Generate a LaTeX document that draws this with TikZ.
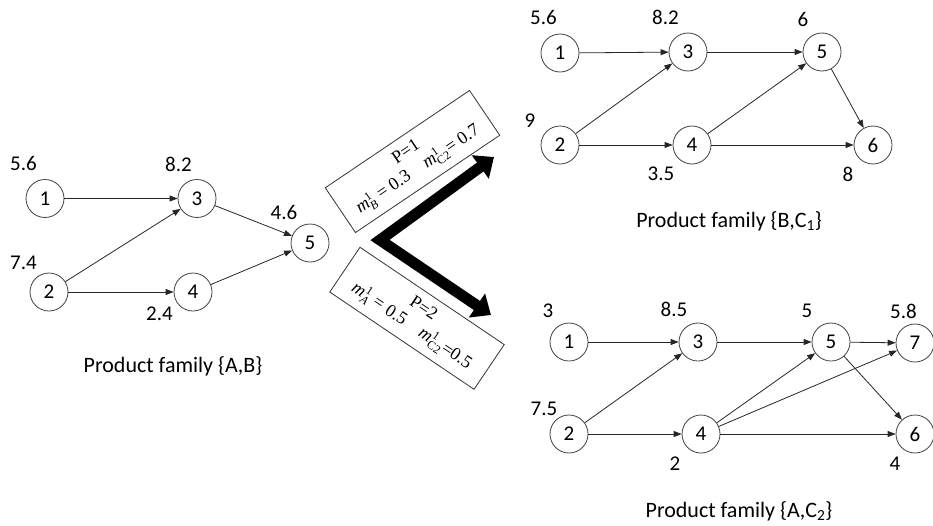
\documentclass[tikz,border=0pt]{standalone}
\usepackage[no-math]{fontspec}
\setmainfont{Carlito}
\newfontfamily\boxserif{Liberation Serif}
\newcommand\mvar[2]{$\mbox{\itshape m}^{\mbox{\fontsize{12}{12}\selectfont #2}}_{\mbox{\fontsize{12}{12}\selectfont #1}}$}
\usetikzlibrary{arrows.meta}
\begin{document}
\begin{tikzpicture}[x=1pt,y=-1pt,
  vtx/.style={circle, draw=black!75, line width=0.8pt, minimum size=38pt, inner sep=0pt, font=\fontsize{21}{25}\selectfont},
  lbl/.style={font=\fontsize{21}{25}\selectfont, inner sep=0pt},
  fam/.style={font=\fontsize{22}{26}\selectfont, inner sep=0pt, anchor=base},
  edge/.style={draw=black!85, line width=0.8pt, -{Triangle[length=8pt,width=6pt]}},
  pbox/.style={draw=black!80, line width=0.8pt, minimum width=174pt, minimum height=54pt, inner sep=0pt, align=center, font=\fontsize{18}{21}\selectfont\boxserif},
  big/.style={line width=11pt, line join=miter, {Triangle[length=17pt,width=28pt]}-{Triangle[length=17pt,width=28pt]}}
]
\useasboundingbox (0,0) rectangle (933,525);

% ---------- left graph ----------
\node[vtx] (L1) at (45,198.5) {1};
\node[vtx] (L3) at (197,198.5) {3};
\node[vtx] (L5) at (310,243) {5};
\node[vtx] (L2) at (49,292) {2};
\node[vtx] (L4) at (193,292) {4};
\node[lbl] (lL1) at (23.5,163.5) {5.6};
\node[lbl] (lL3) at (178.5,164) {8.2};
\node[lbl] (lL5) at (284,212) {4.6};
\node[lbl] (lL2) at (23.5,262.5) {7.4};
\node[lbl] (lL4) at (159.5,313.5) {2.4};
\draw[edge] (L1) -- (L3);
\draw[edge] (L2) -- (L3);
\draw[edge] (L2) -- (L4);
\draw[edge] (L3) -- (L5);
\draw[edge] (L4) -- (L5);
\node[fam] (famL) at (173,372) {Product family \{A,B\}};

% ---------- top-right graph ----------
\node[vtx] (T1) at (560,53) {1};
\node[vtx] (T3) at (688,52) {3};
\node[vtx] (T5) at (822,52) {5};
\node[vtx] (T2) at (560,145) {2};
\node[vtx] (T4) at (692,145) {4};
\node[vtx] (T6) at (873,145) {6};
\node[lbl] (lT1) at (543.5,17.5) {5.6};
\node[lbl] (lT3) at (665.5,17.5) {8.2};
\node[lbl] (lT5) at (803,19) {6};
\node[lbl] (lT2) at (530,121) {9};
\node[lbl] (lT4) at (661,174) {3.5};
\node[lbl] (lT6) at (848,174) {8};
\draw[edge] (T1) -- (T3);
\draw[edge] (T3) -- (T5);
\draw[edge] (T5) -- (T6);
\draw[edge] (T2) -- (T3);
\draw[edge] (T2) -- (T4);
\draw[edge] (T4) -- (T5);
\draw[edge] (T4) -- (T6);
\node[fam] (famT) at (729,227.5) {Product family \{B,C\textsubscript{1}\}};

% ---------- bottom-right graph ----------
\node[vtx] (B1) at (569,342) {1};
\node[vtx] (B3) at (698,342) {3};
\node[vtx] (B5) at (831,342) {5};
\node[vtx] (B7) at (915,343) {7};
\node[vtx] (B2) at (569,434) {2};
\node[vtx] (B4) at (701,434) {4};
\node[vtx] (B6) at (915,434) {6};
\node[lbl] (lB1) at (548,311) {3};
\node[lbl] (lB3) at (674,309) {8.5};
\node[lbl] (lB5) at (807,311) {5};
\node[lbl] (lB7) at (903.5,311) {5.8};
\node[lbl] (lB2) at (544,409) {7.5};
\node[lbl] (lB4) at (675,464) {2};
\node[lbl] (lB6) at (895,464) {4};
\draw[edge] (B1) -- (B3);
\draw[edge] (B3) -- (B5);
\draw[edge] (B5) -- (B7);
\draw[edge] (B5) -- (B6);
\draw[edge] (B2) -- (B3);
\draw[edge] (B2) -- (B4);
\draw[edge] (B4) -- (B5);
\draw[edge] (B4) -- (B7);
\draw[edge] (B4) -- (B6);
\node[fam] (famB) at (739,517) {Product family \{A,C\textsubscript{2}\}};

% ---------- split arrow and boxes ----------
\coordinate (tipU) at (494,157);
\coordinate (corner) at (380,240);
\coordinate (tipD) at (491,315);
\draw[big] (tipU) -- (corner) -- (tipD);

\node[pbox, rotate=34] (boxU) at (412.5,161.5)
  {P=1\\\mvar{\itshape B}{1} = 0.3\quad\mvar{C2}{1}= 0.7};
\node[pbox, rotate=-34] (boxD) at (417,318.3)
  {P=2\\\mvar{\itshape A}{1} = 0.5\quad\mvar{C2}{1}=0.5};
\end{tikzpicture}
\end{document}
